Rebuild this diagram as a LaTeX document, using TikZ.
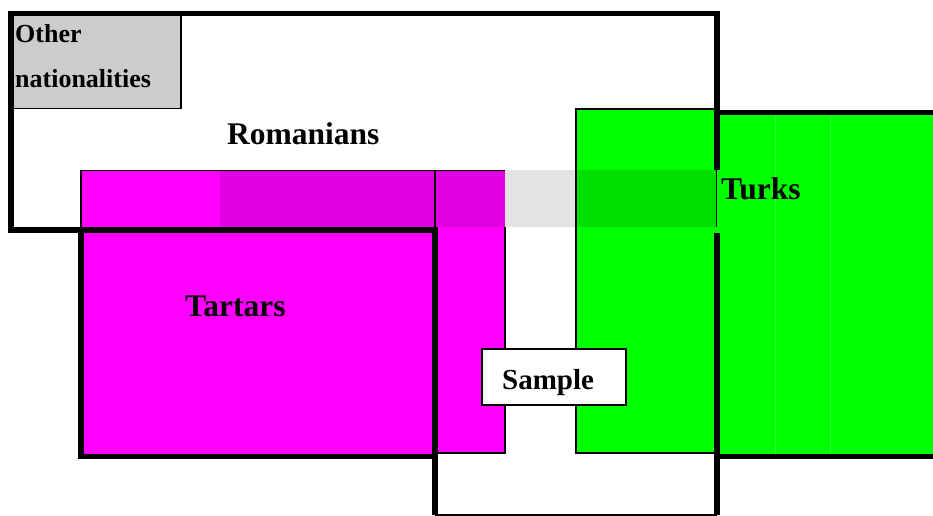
\documentclass[tikz,border=0pt]{standalone}
\usepackage{fontspec}
\setmainfont{Liberation Serif}
\definecolor{mag}{HTML}{FF00FF}
\definecolor{magdark}{HTML}{E000E0}
\definecolor{grn}{HTML}{00FF00}
\definecolor{grndark}{HTML}{00E000}
\definecolor{stripgrey}{HTML}{E3E3E3}
\definecolor{othergrey}{HTML}{CCCCCC}
\definecolor{faintgreen}{HTML}{30FF30}
\begin{document}
\begin{tikzpicture}[x=1bp,y=-1bp,
  thickline/.style={line width=5.5bp},
  thinline/.style={line width=1.8bp},
  lbl/.style={anchor=base west, inner sep=0pt, font=\bfseries\fontsize{31.5bp}{36bp}\selectfont},
  smalllbl/.style={anchor=base west, inner sep=0pt, font=\bfseries\fontsize{26bp}{30bp}\selectfont}]
\useasboundingbox (0,0) rectangle (933,516);
\fill[white] (0,0) rectangle (933,516);
% fills
\fill[grn] (716,112.5) rectangle (933,456.5);
\draw[faintgreen, line width=0.8bp] (775,115) -- (775,454) (830,115) -- (830,454);
\fill[grn] (576,109) rectangle (716,453);
\draw[thinline] (716,109) -- (576,109) -- (576,453) -- (716,453);
\fill[mag] (81,226) rectangle (435,456.5);
\fill[mag] (435,226) rectangle (505,453);
\draw[thinline] (435,453) -- (505,453) -- (505,226);
% other nationalities box
\draw[thinline, fill=othergrey] (11,13.5) rectangle (181,108.5);
% thick outlines
\draw[thickline] (435,230) -- (11,230) -- (11,13.5) -- (717,13.5) -- (717,170);
\draw[thickline] (717,233) -- (717,515);
\draw[thickline] (81,230) -- (81,456.5) -- (435,456.5);
\draw[thickline] (435,227) -- (435,515);
\draw[thickline] (717,112.5) -- (933,112.5);
\draw[thickline] (717,456.5) -- (933,456.5);
\draw[thinline] (435,515) -- (717,515);
% overlap strip
\fill[mag] (80.7,170.5) rectangle (220,227.3);
\fill[magdark] (220,170.5) rectangle (505,227.3);
\fill[stripgrey] (505,170.5) rectangle (576,227.3);
\fill[grndark] (576,170.5) rectangle (716,227.3);
\draw[thinline] (80.7,227.3) -- (80.7,170.5) -- (505,170.5);
\draw[thinline] (435,170.5) -- (435,227.3);
\draw[thinline] (576,170.5) -- (576,227.3);
\draw[thinline] (716.5,170.5) -- (716.5,227.3);
% sample box
\draw[thinline, fill=white] (482,349) rectangle (626,405);
% labels
\node[smalllbl] (other) at (15,43) {Other};
\node[smalllbl] (nat) at (15,88) {nationalities};
\node[lbl] (rom) at (227,145) {Romanians};
\node[lbl] (tart) at (185,317) {Tartars};
\node[lbl] (turks) at (721,200) {Turks};
\node[anchor=base west, inner sep=0pt, font=\bfseries\fontsize{29bp}{33bp}\selectfont] (sample) at (502,389) {Sample};
\end{tikzpicture}
\end{document}
